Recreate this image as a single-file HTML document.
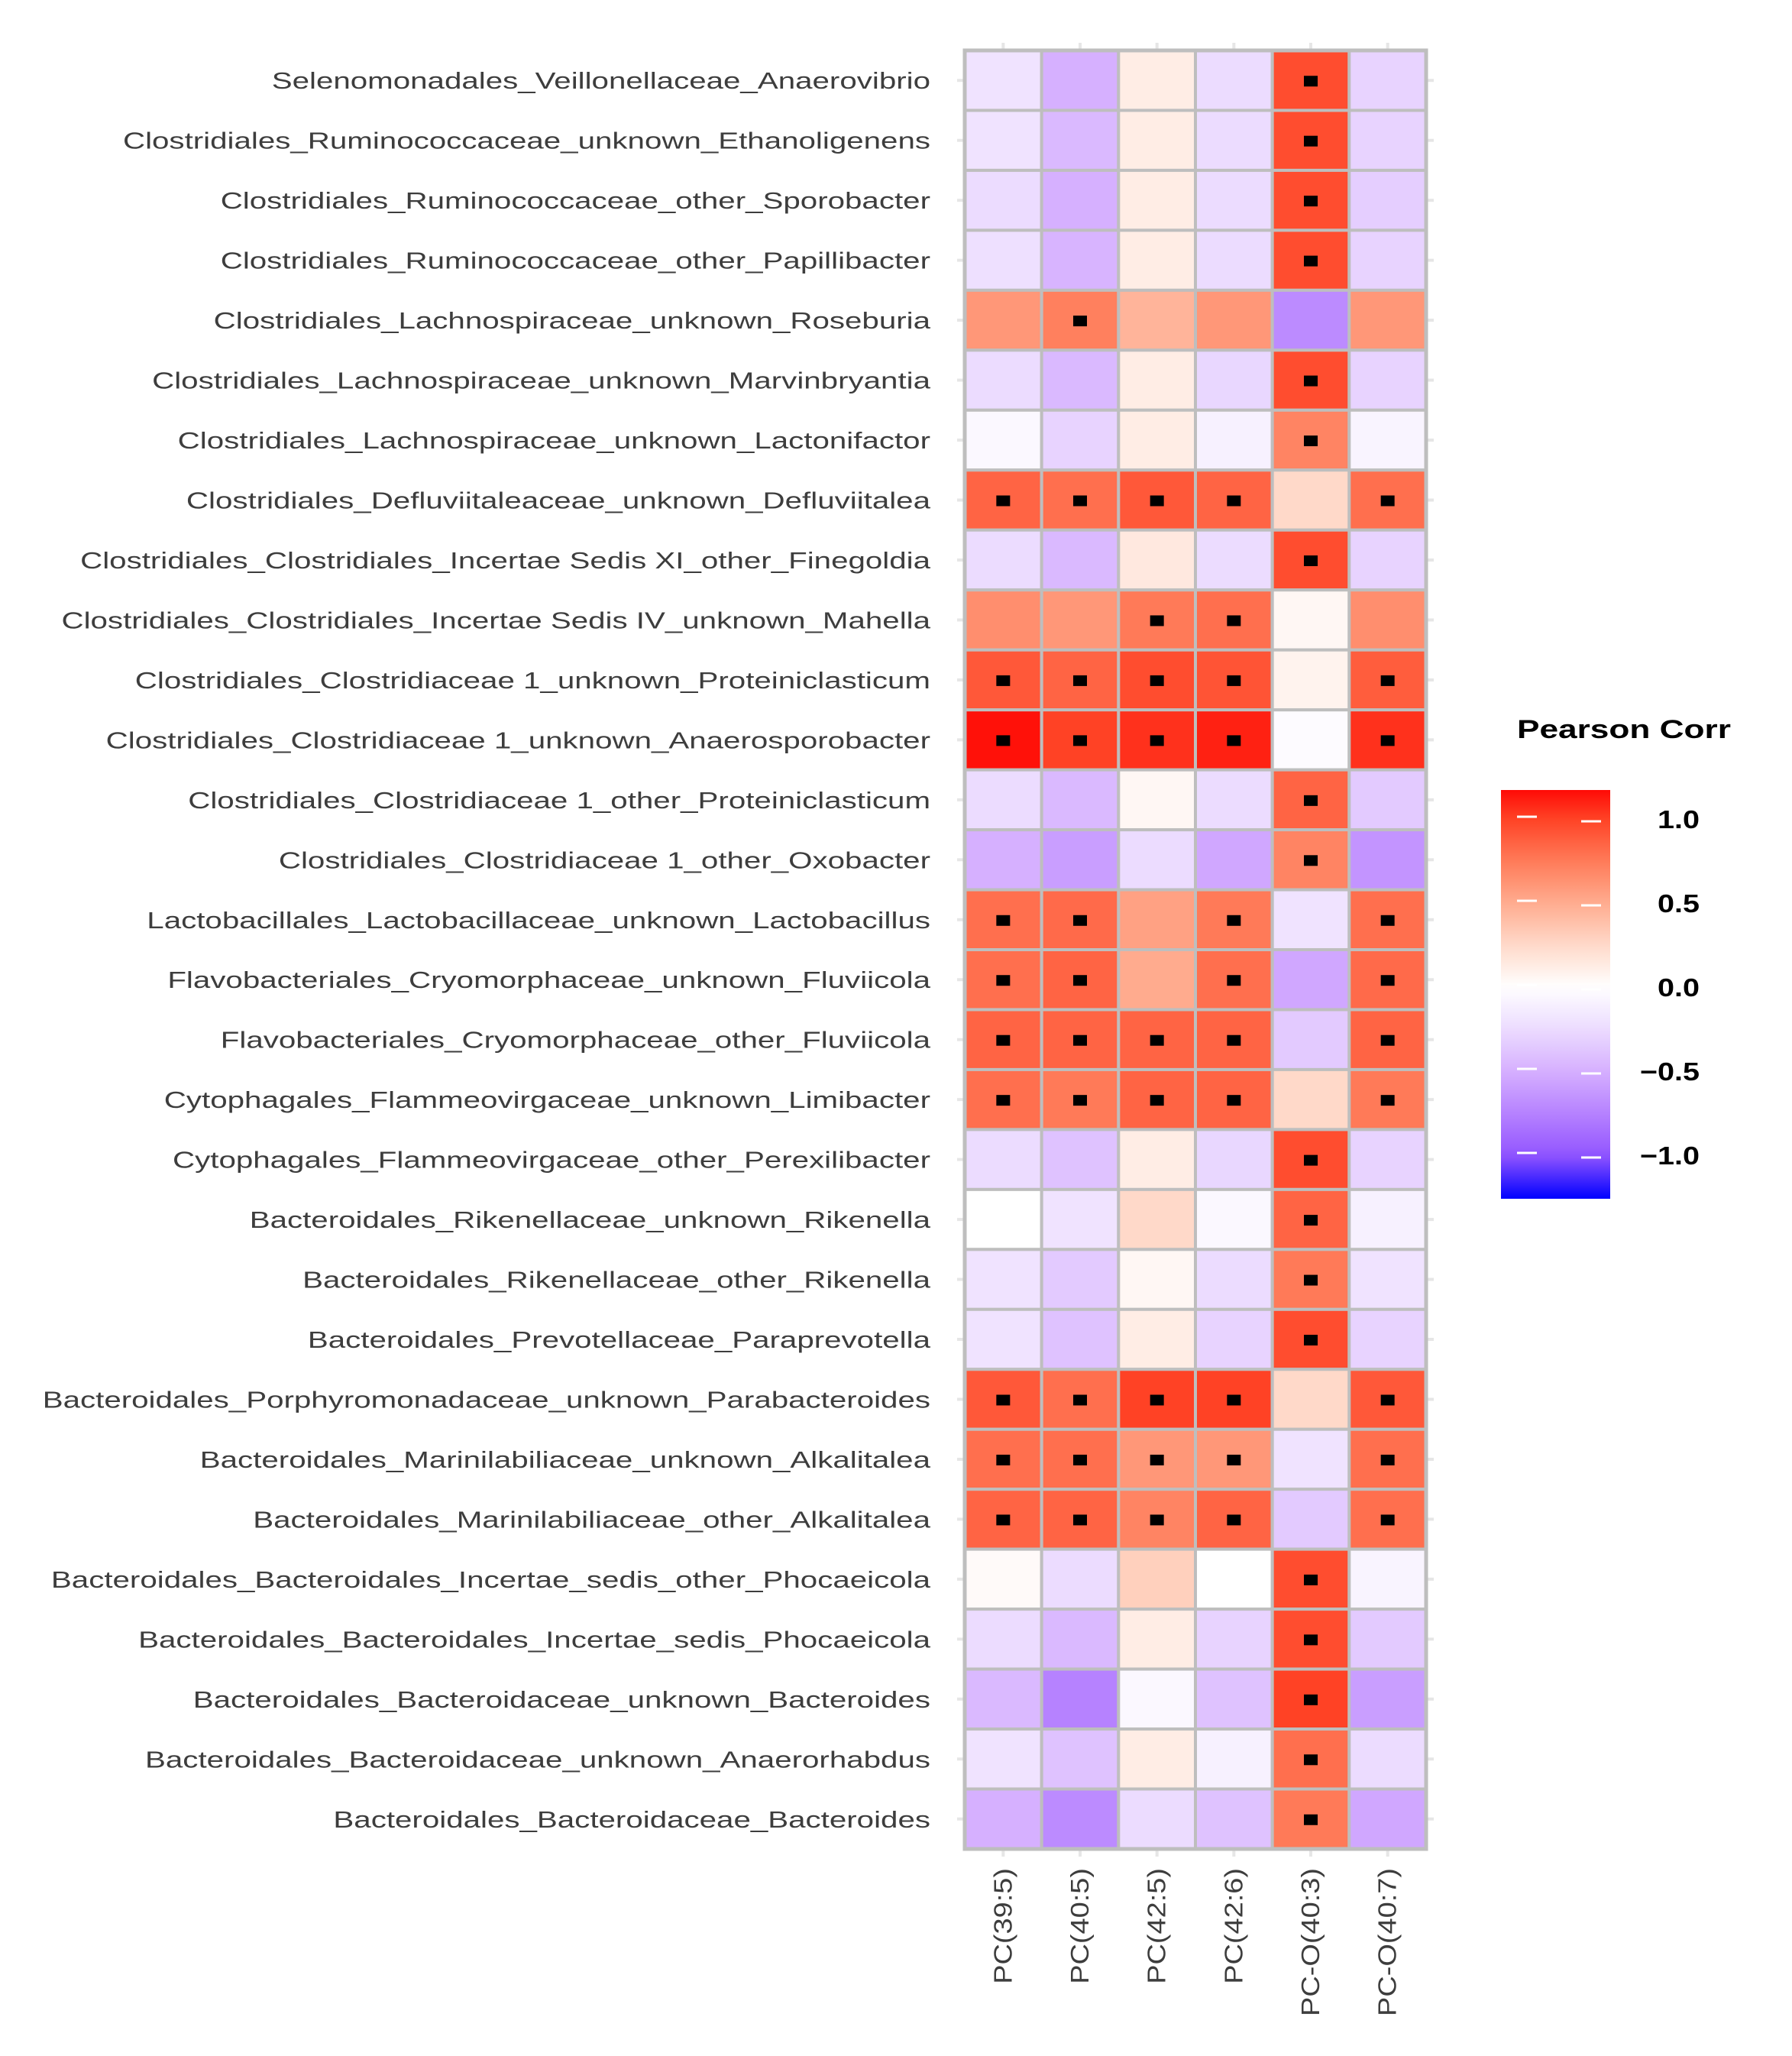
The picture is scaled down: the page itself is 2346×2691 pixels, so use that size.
<!DOCTYPE html>
<html><head><meta charset="utf-8"><style>
html,body{margin:0;padding:0;background:#fff;}
svg{display:block;font-family:"Liberation Sans",sans-serif;}
</style></head><body>
<svg id="chart" width="2346" height="2691" viewBox="0 0 2346 2691"></svg>
<script>
const rowLabels = [
"Selenomonadales_Veillonellaceae_Anaerovibrio",
"Clostridiales_Ruminococcaceae_unknown_Ethanoligenens",
"Clostridiales_Ruminococcaceae_other_Sporobacter",
"Clostridiales_Ruminococcaceae_other_Papillibacter",
"Clostridiales_Lachnospiraceae_unknown_Roseburia",
"Clostridiales_Lachnospiraceae_unknown_Marvinbryantia",
"Clostridiales_Lachnospiraceae_unknown_Lactonifactor",
"Clostridiales_Defluviitaleaceae_unknown_Defluviitalea",
"Clostridiales_Clostridiales_Incertae Sedis XI_other_Finegoldia",
"Clostridiales_Clostridiales_Incertae Sedis IV_unknown_Mahella",
"Clostridiales_Clostridiaceae 1_unknown_Proteiniclasticum",
"Clostridiales_Clostridiaceae 1_unknown_Anaerosporobacter",
"Clostridiales_Clostridiaceae 1_other_Proteiniclasticum",
"Clostridiales_Clostridiaceae 1_other_Oxobacter",
"Lactobacillales_Lactobacillaceae_unknown_Lactobacillus",
"Flavobacteriales_Cryomorphaceae_unknown_Fluviicola",
"Flavobacteriales_Cryomorphaceae_other_Fluviicola",
"Cytophagales_Flammeovirgaceae_unknown_Limibacter",
"Cytophagales_Flammeovirgaceae_other_Perexilibacter",
"Bacteroidales_Rikenellaceae_unknown_Rikenella",
"Bacteroidales_Rikenellaceae_other_Rikenella",
"Bacteroidales_Prevotellaceae_Paraprevotella",
"Bacteroidales_Porphyromonadaceae_unknown_Parabacteroides",
"Bacteroidales_Marinilabiliaceae_unknown_Alkalitalea",
"Bacteroidales_Marinilabiliaceae_other_Alkalitalea",
"Bacteroidales_Bacteroidales_Incertae_sedis_other_Phocaeicola",
"Bacteroidales_Bacteroidales_Incertae_sedis_Phocaeicola",
"Bacteroidales_Bacteroidaceae_unknown_Bacteroides",
"Bacteroidales_Bacteroidaceae_unknown_Anaerorhabdus",
"Bacteroidales_Bacteroidaceae_Bacteroides"];
const colLabels = ["PC(39:5)","PC(40:5)","PC(42:5)","PC(42:6)","PC-O(40:3)","PC-O(40:7)"];
const values = [
[-0.2,-0.5,0.12,-0.25,0.95,-0.3],
[-0.2,-0.45,0.12,-0.25,0.95,-0.3],
[-0.25,-0.5,0.12,-0.25,0.95,-0.33],
[-0.22,-0.48,0.12,-0.25,0.95,-0.3],
[0.6,0.72,0.45,0.6,-0.7,0.6],
[-0.25,-0.45,0.12,-0.28,0.95,-0.3],
[-0.05,-0.3,0.12,-0.1,0.7,-0.08],
[0.85,0.8,0.9,0.85,0.25,0.8],
[-0.25,-0.45,0.15,-0.25,0.95,-0.3],
[0.65,0.6,0.75,0.8,0.05,0.65],
[0.9,0.85,0.95,0.92,0.08,0.88],
[1.15,1.0,1.05,1.1,-0.03,1.05],
[-0.25,-0.45,0.05,-0.25,0.85,-0.35],
[-0.5,-0.6,-0.25,-0.55,0.7,-0.65],
[0.8,0.82,0.55,0.75,-0.2,0.8],
[0.8,0.85,0.5,0.8,-0.55,0.82],
[0.85,0.85,0.85,0.85,-0.35,0.85],
[0.8,0.75,0.85,0.85,0.25,0.75],
[-0.25,-0.4,0.12,-0.28,0.95,-0.3],
[0,-0.2,0.25,-0.05,0.85,-0.1],
[-0.2,-0.35,0.05,-0.25,0.75,-0.2],
[-0.2,-0.4,0.12,-0.3,0.95,-0.3],
[0.9,0.8,1.0,1.0,0.25,0.9],
[0.8,0.8,0.6,0.6,-0.2,0.8],
[0.85,0.85,0.7,0.85,-0.35,0.8],
[0.03,-0.25,0.3,0,0.95,-0.08],
[-0.25,-0.45,0.12,-0.3,0.95,-0.35],
[-0.45,-0.75,-0.05,-0.4,1.0,-0.6],
[-0.2,-0.4,0.12,-0.1,0.8,-0.25],
[-0.5,-0.7,-0.25,-0.4,0.75,-0.55]];
const stars = [
[0,0,0,0,1,0],[0,0,0,0,1,0],[0,0,0,0,1,0],[0,0,0,0,1,0],[0,1,0,0,0,0],
[0,0,0,0,1,0],[0,0,0,0,1,0],[1,1,1,1,0,1],[0,0,0,0,1,0],[0,0,1,1,0,0],
[1,1,1,1,0,1],[1,1,1,1,0,1],[0,0,0,0,1,0],[0,0,0,0,1,0],[1,1,0,1,0,1],
[1,1,0,1,0,1],[1,1,1,1,0,1],[1,1,1,1,0,1],[0,0,0,0,1,0],[0,0,0,0,1,0],
[0,0,0,0,1,0],[0,0,0,0,1,0],[1,1,1,1,0,1],[1,1,1,1,0,1],[1,1,1,1,0,1],
[0,0,0,0,1,0],[0,0,0,0,1,0],[0,0,0,0,1,0],[0,0,0,0,1,0],[0,0,0,0,1,0]];
const legendTicks = [1.0,0.5,0.0,-0.5,-1.0];
const legendTickLabels = ["1.0","0.5","0.0","\u22120.5","\u22121.0"];

const NS="http://www.w3.org/2000/svg";
const svg=document.getElementById('chart');
function mk(tag,attrs,parent){const e=document.createElementNS(NS,tag);for(const k in attrs)e.setAttribute(k,attrs[k]);(parent||svg).appendChild(e);return e;}
const L=1263,R=1867,T=66,B=2420;
const cw=(R-L)/colLabels.length, rh=(B-T)/rowLabels.length;
const xPos=j=>L+j*cw, yPos=i=>T+i*rh;
const stops=[[-1.26,[0,0,255]],[-1.0,[147,86,255]],[-0.75,[182,130,255]],[-0.5,[214,176,255]],[-0.25,[236,220,255]],[0,[255,255,255]],[0.25,[255,217,201]],[0.5,[255,171,142]],[0.75,[255,122,88]],[1.0,[255,66,37]],[1.2,[255,0,0]]];
function color(v){
  if(v<=stops[0][0])return 'rgb(0,0,255)';
  for(let k=1;k<stops.length;k++){if(v<=stops[k][0]){const a=stops[k-1],b=stops[k],t=(v-a[0])/(b[0]-a[0]);
    const c=a[1].map((x,i)=>Math.round(x+(b[1][i]-x)*t));return `rgb(${c})`;}}
  return 'rgb(255,0,0)';
}
const tg=mk('g',{});


colLabels.forEach((c,j)=>{const x=xPos(j)+cw/2;
  mk('line',{x1:x,x2:x,y1:T-10,y2:T,stroke:'#e6e6e6','stroke-width':4},tg);
  mk('line',{x1:x,x2:x,y1:B,y2:B+10,stroke:'#e6e6e6','stroke-width':4},tg);});
rowLabels.forEach((r,i)=>{const y=yPos(i)+rh/2;
  mk('line',{x1:L-10,x2:L,y1:y,y2:y,stroke:'#e6e6e6','stroke-width':4},tg);
  mk('line',{x1:R,x2:R+10,y1:y,y2:y,stroke:'#e6e6e6','stroke-width':4},tg);});
const cg=mk('g',{});


values.forEach((row,i)=>row.forEach((v,j)=>{
  const r=mk('rect',{x:xPos(j),y:yPos(i),width:cw,height:rh,fill:color(v),stroke:'#bebebe','stroke-width':4},cg);
  
  
  if(stars[i][j]){const s=mk('rect',{x:xPos(j)+cw/2-9,y:yPos(i)+rh/2-6,width:18,height:14,fill:'#000'},cg);
    
    }
}));
mk('rect',{x:L,y:T,width:R-L,height:B-T,fill:'none',stroke:'#bebebe','stroke-width':5},cg);
const lg=mk('g',{transform:'translate(1218,0) scale(1.3,1)'});


rowLabels.forEach((r,i)=>{const t=mk('text',{x:0,y:yPos(i)+rh/2+11,'text-anchor':'end','font-size':31,fill:'#3d3d3d'},lg);t.textContent=r;
  
  });
const xg=mk('g',{});


colLabels.forEach((c,j)=>{const x=xPos(j)+cw/2+11;const t=mk('text',{transform:`translate(${x},2445) rotate(-90) scale(1.15,1)`,'text-anchor':'end','font-size':33,fill:'#3d3d3d'},xg);t.textContent=c;
  
  });
const leg=mk('g',{});


const tt=mk('text',{x:1986,y:966,'font-size':34,fill:'#000','font-weight':'bold',transform:'translate(1986,0) scale(1.3,1) translate(-1986,0)'},leg);tt.textContent='Pearson Corr';


const defs=mk('defs',{});
const gr=mk('linearGradient',{id:'lg',x1:0,y1:1,x2:0,y2:0},defs);
const vTop=1.17,vBot=-1.26;
for(let k=0;k<=40;k++){const v=vBot+(vTop-vBot)*k/40;mk('stop',{offset:(k/40),'stop-color':color(v)},gr);}
const lyT=1034,lyB=1569;
const ly=v=>1292-v*220;
const bar=mk('rect',{x:1965,y:lyT,width:143,height:lyB-lyT,fill:'url(#lg)'},leg);


legendTicks.forEach((v,k)=>{const y=ly(v);
  mk('line',{x1:1986,x2:2012,y1:y-3,y2:y-3,stroke:'#fff','stroke-width':3},leg);
  mk('line',{x1:2070,x2:2096,y1:y+3,y2:y+3,stroke:'#fff','stroke-width':3},leg);
  const t=mk('text',{x:2225,y:y+12,'text-anchor':'end','font-size':33,fill:'#000','font-weight':'bold',transform:`translate(2225,0) scale(1.2,1) translate(-2225,0)`},leg);t.textContent=legendTickLabels[k];
  
  });
</script>
</body></html>
